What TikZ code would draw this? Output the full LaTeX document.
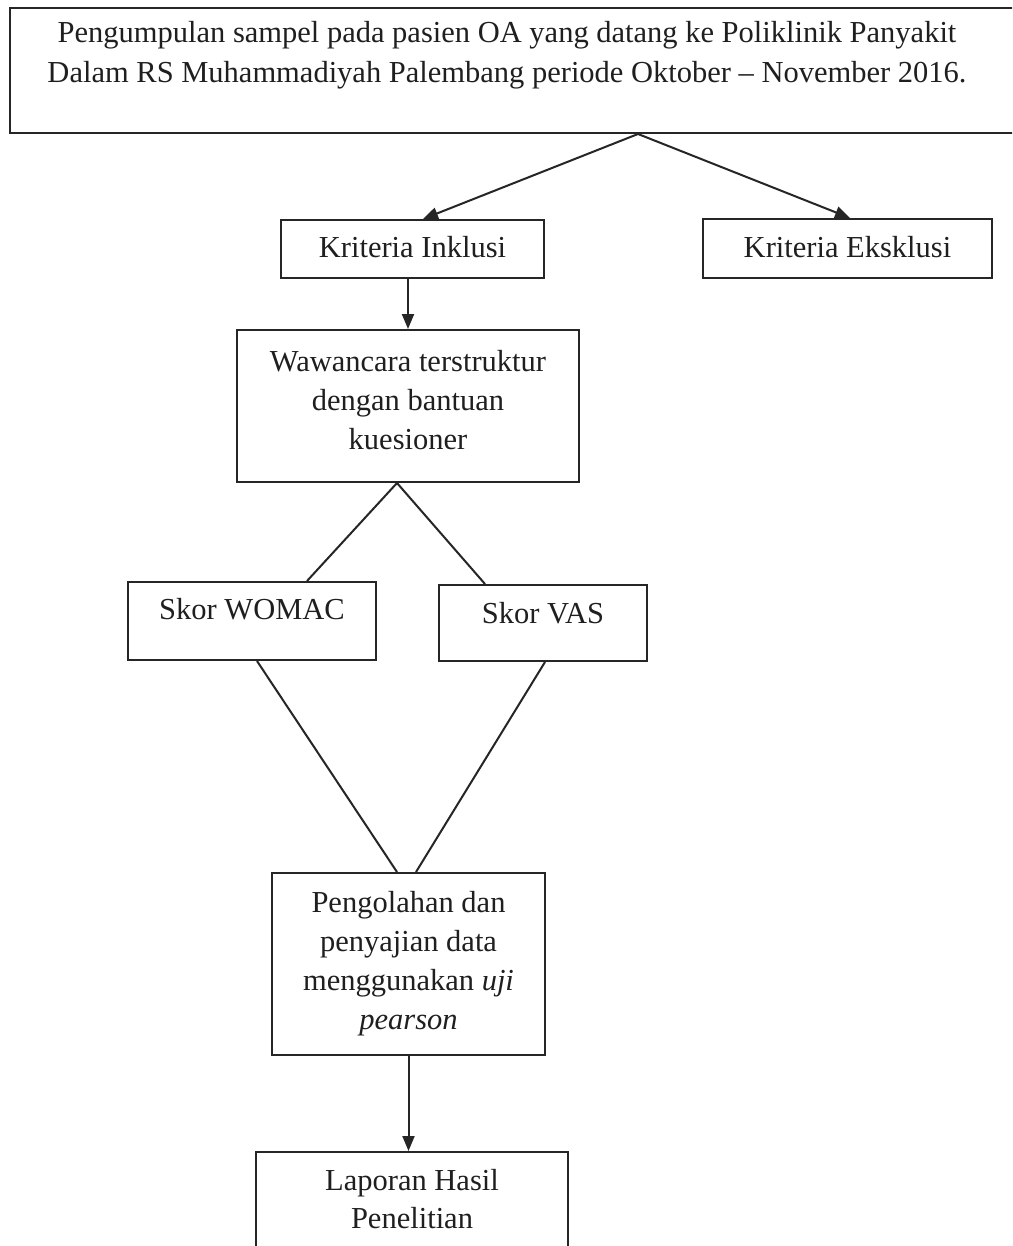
\documentclass[tikz,border=0pt]{standalone}
\usepackage{fontspec}
\setmainfont{Liberation Serif}
\usetikzlibrary{arrows.meta,calc}
\begin{document}
\begin{tikzpicture}[x=1pt,y=-1pt,
  box/.style={draw=black!85, line width=2pt, rectangle, inner sep=0pt},
  txt/.style={inner sep=0pt, anchor=base, text=black!88, font=\fontsize{30.5}{39}\selectfont},
  con/.style={draw=black!85, line width=2pt},
  arr/.style={con, -{Triangle[length=15pt,width=12pt]}}]
\path[use as bounding box] (0,0) rectangle (1012,1246);
\clip (0,0) rectangle (1012,1246);
\fill[white] (0,0) rectangle (1012,1246);

% boxes
\node[box, minimum width=1020pt, minimum height=125pt] (top)  at (520,70.5) {};
\node[box, minimum width=263pt,  minimum height=58pt]  (inkl) at (412.5,249) {};
\node[box, minimum width=289pt,  minimum height=59pt]  (eks)  at (847.5,248.5) {};
\node[box, minimum width=342pt,  minimum height=152pt] (waw)  at (408,406) {};
\node[box, minimum width=248pt,  minimum height=78pt]  (wom)  at (252,621) {};
\node[box, minimum width=208pt,  minimum height=76pt]  (vas)  at (543,623) {};
\node[box, minimum width=273pt,  minimum height=182pt] (peng) at (408.5,964) {};
\node[box, minimum width=312pt,  minimum height=148pt] (lap)  at (412,1226) {};

% texts
\node[txt] (topA) at (507,43) {Pengumpulan sampel pada pasien OA yang datang ke Poliklinik Panyakit};
\node[txt] (topB) at (507,83) {Dalam RS Muhammadiyah Palembang periode Oktober \textendash{} November 2016.};
\node[txt] (inklT) at (412.5,258) {Kriteria Inklusi};
\node[txt] (eksT) at (847.5,258) {Kriteria Eksklusi};
\node[txt] (wawA) at (408,371) {Wawancara terstruktur};
\node[txt] (wawB) at (408,410) {dengan bantuan};
\node[txt] (wawC) at (408,449) {kuesioner};
\node[txt] (womT) at (252,619) {Skor WOMAC};
\node[txt] (vasT) at (543,623) {Skor VAS};
\node[txt] (pengA) at (408.5,912) {Pengolahan dan};
\node[txt] (pengB) at (408.5,951) {penyajian data};
\node[txt] (pengC) at (408.5,990) {menggunakan \textit{uji}};
\node[txt] (pengD) at (408.5,1029) {\textit{pearson}};
\node[txt] (lapA) at (412,1190) {Laporan Hasil};
\node[txt] (lapB) at (412,1228) {Penelitian};

% connectors
\coordinate (apex) at ($(top.south west)+(629,0)$);
\draw[arr] (apex) -- ($(inkl.north)+(10.5,0)$);
\draw[arr] (apex) -- ($(eks.north)+(2.5,0)$);
\draw[arr] (inkl.south -| waw.north) -- (waw.north);
\coordinate (wapex) at ($(waw.south)+(-11,0)$);
\draw[con] (wapex) -- ($(wom.north)+(55,0)$);
\draw[con] (wapex) -- ($(vas.north)+(-58,0)$);
\draw[con] ($(wom.south)+(5,0)$) -- ($(peng.north)+(-11.5,0)$);
\draw[con] ($(vas.south)+(2,0)$) -- ($(peng.north)+(7.5,0)$);
\draw[arr] (peng.south) -- (peng.south |- lap.north);
\end{tikzpicture}
\end{document}
